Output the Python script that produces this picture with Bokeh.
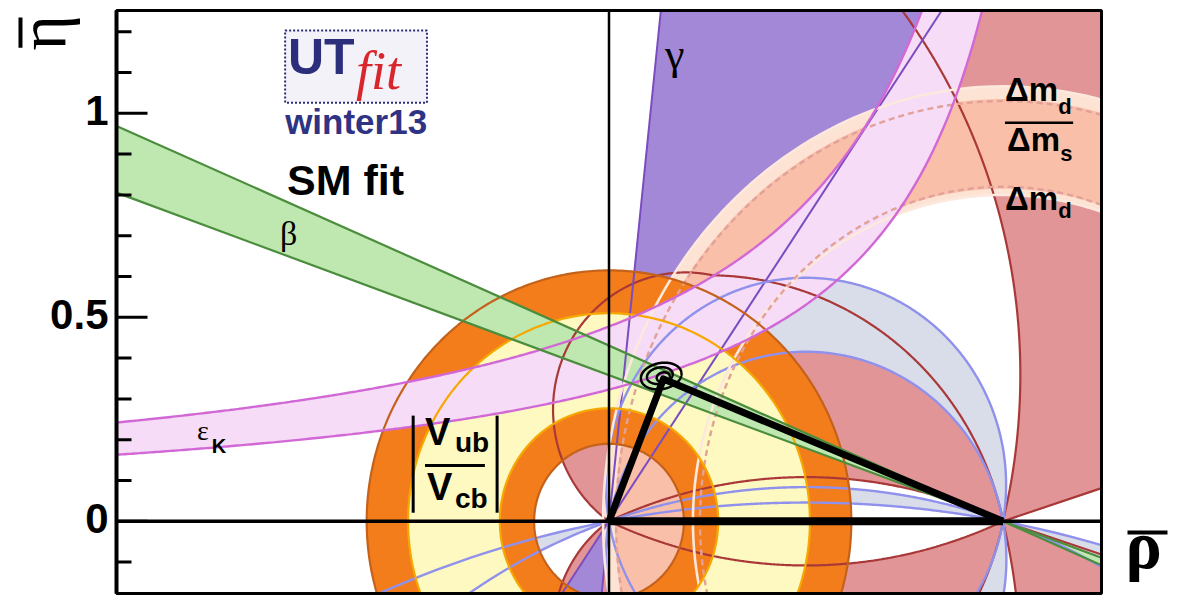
import numpy as np
from bokeh.plotting import figure
from bokeh.models import Range1d
from bokeh.core.properties import value
from bokeh.embed import file_html
from bokeh.resources import INLINE

# ---------------------------------------------------------------- values
RHO_RANGE = (-1.25, 1.25)
ETA_RANGE = (-0.177, 1.252)
ETA_MAJOR_TICKS = [0.0, 0.5, 1.0]
ETA_TICK_LABELS = ["0", "0.5", "1"]
ETA_MINOR_TICKS = [-0.1, 0.1, 0.2, 0.3, 0.4, 0.6, 0.7, 0.8, 0.9, 1.1, 1.2]

# best-fit apex of the unitarity triangle
APEX_RHO = 0.138
APEX_ETA = 0.349

# 2D probability contours of the fit (centre, semi-axes, tilt in degrees)
CONTOUR_RHO = [0.1325, 0.129, 0.138]
CONTOUR_ETA = [0.356, 0.357, 0.353]
CONTOUR_SEMI_RHO = [0.052, 0.033, 0.017]
CONTOUR_SEMI_ETA = [0.032, 0.020, 0.012]
CONTOUR_TILT = [10.0, 10.0, 10.0]

# |Vub/Vcb| : radii around (0,0)
VUB_RADII_95 = [0.19, 0.615]
VUB_RADII_68 = [0.277, 0.51]

# sin2beta : angles (deg) of the band edges through (1,0)
BETA_ANGLES = [19.7, 23.3]

# gamma : angles (deg) of the band edges through (0,0)
GAMMA_ANGLES = [56.0, 84.0]

# eps_K : edges eta = k / (a - rho)
EPSK_POLE = [1.284, 1.276]
EPSK_SCALE = [0.613, 0.412]

# Delta m_d / Delta m_s and Delta m_d : semi-axes of the edges around (1,0)
DMS_95_SEMI_RHO = [0.787, 1.015]
DMS_95_SEMI_ETA = [0.800, 1.066]
DMS_68_SEMI_RHO = [0.800, 0.985]
DMS_68_SEMI_ETA = [0.815, 1.035]
DMD_SEMI_RHO = [0.769, 0.982]
DMD_SEMI_ETA = [0.820, 1.030]

# alpha : circles through (0,0) and (1,0), centre at (0.5, c)
ALPHA_MAIN_OFFSETS = [0.089, -0.093]
ALPHA_FLAT_OFFSETS = [-1.45, -2.7]

# cos2beta-like region (red): circle edges (rho_c, eta_c, r)
RED_LEFT_CIRCLE = [0.194, 0.274, 0.336]
RED_RIGHT_CIRCLE = [0.253, -0.162, 0.765]
RED_FLAT_OFFSET = -1.1
RED_OUTER_CIRCLE = [-0.435, 0.359, 1.479]
RED_WEDGE_ANGLE = 18.0

# ---------------------------------------------------------------- page layout (pixels)
WIDTH, HEIGHT = 1181, 596
FRAME_LEFT, FRAME_RIGHT, FRAME_TOP, FRAME_BOTTOM = 116, 1101, 10, 593
SX = (FRAME_RIGHT - FRAME_LEFT) / (RHO_RANGE[1] - RHO_RANGE[0])
SY = (FRAME_BOTTOM - FRAME_TOP) / (ETA_RANGE[1] - ETA_RANGE[0])
X_VIEW = (RHO_RANGE[0] - FRAME_LEFT / SX, RHO_RANGE[1] + (WIDTH - FRAME_RIGHT) / SX)
Y_VIEW = (ETA_RANGE[0] - (HEIGHT - FRAME_BOTTOM) / SY, ETA_RANGE[1] + FRAME_TOP / SY)

# ---------------------------------------------------------------- colours
C_GAMMA, L_GAMMA = "#a488d8", "#7a4cbf"
C_RED, L_RED = "#e29596", "#a93838"
C_ALPHA, L_ALPHA = "#d9dce9", "#8f91ec"
C_DMS95, C_DMS68, L_DMS, L_DMD = "#fde3d4", "#fabfa9", "#fde8dd", "#e2a199"
C_VUB95, C_VUB68, L_VUB95, L_VUB68 = "#f47d1b", "#fdf9c1", "#c4611a", "#f6a800"
C_EPSK, L_EPSK = "#f6dcf6", "#d268d6"
C_BETA, L_BETA = "#bee8b0", "#4b8d3d"
NAVY = "#2b2e7a"

FAR = 4.0
XMIN, XMAX = RHO_RANGE
YMIN, YMAX = ETA_RANGE


# ---------------------------------------------------------------- geometry
def arc(cx, cy, rx, ry, t0, t1, n=360):
    t = np.radians(np.linspace(t0, t1, n))
    return cx + rx * np.cos(t), cy + ry * np.sin(t)


def ring(cx, cy, rx, ry, n=480):
    return arc(cx, cy, rx, ry, 0.0, 360.0, n)


def chord_arc(c, upper, n=360):
    """Arc of the circle through (0,0) and (1,0) centred at (0.5, c), from (0,0) to (1,0)."""
    r = np.hypot(0.5, c)
    phi = np.degrees(np.arctan2(c, 0.5))
    t1 = -phi if upper else 360.0 - phi
    return arc(0.5, c, r, r, 180.0 + phi, t1, n)


def crescents(c1, c2):
    out = []
    for upper in (True, False):
        x1, y1 = chord_arc(c1, upper)
        x2, y2 = chord_arc(c2, upper)
        out.append(([np.r_[x1, x2[::-1]]], [np.r_[y1, y2[::-1]]]))
    return out


def annulus(cx, cy, inner, outer):
    xo, yo = ring(cx, cy, outer[0], outer[1])
    xi, yi = ring(cx, cy, inner[0], inner[1])
    return ([xo, xi], [yo, yi])


def circle_cross(c1, c2):
    x1, y1, r1 = c1
    x2, y2, r2 = c2
    dx, dy = x2 - x1, y2 - y1
    d = np.hypot(dx, dy)
    a = (r1 ** 2 - r2 ** 2 + d ** 2) / (2 * d)
    h = np.sqrt(max(r1 ** 2 - a ** 2, 0.0))
    xm, ym = x1 + a * dx / d, y1 + a * dy / d
    pts = [(xm + h * dy / d, ym - h * dx / d), (xm - h * dy / d, ym + h * dx / d)]
    return max(pts, key=lambda q: q[0])


def mirror(curve):
    return (curve[0], -np.asarray(curve[1]))


# ---------------------------------------------------------------- clipping to the plot window
_EDGES = [
    (lambda q: q[0] >= XMIN, lambda a, b: (XMIN, a[1] + (XMIN - a[0]) * (b[1] - a[1]) / (b[0] - a[0]))),
    (lambda q: q[0] <= XMAX, lambda a, b: (XMAX, a[1] + (XMAX - a[0]) * (b[1] - a[1]) / (b[0] - a[0]))),
    (lambda q: q[1] >= YMIN, lambda a, b: (a[0] + (YMIN - a[1]) * (b[0] - a[0]) / (b[1] - a[1]), YMIN)),
    (lambda q: q[1] <= YMAX, lambda a, b: (a[0] + (YMAX - a[1]) * (b[0] - a[0]) / (b[1] - a[1]), YMAX)),
]


def clip_ring(xs, ys):
    pts = list(zip(np.asarray(xs, float), np.asarray(ys, float)))
    for inside, cross in _EDGES:
        if not pts:
            break
        out = []
        prev = pts[-1]
        for cur in pts:
            if inside(cur):
                if not inside(prev):
                    out.append(cross(prev, cur))
                out.append(cur)
            elif inside(prev):
                out.append(cross(prev, cur))
            prev = cur
        pts = out
    if len(pts) < 3:
        return None
    arr = np.array(pts)
    return arr[:, 0], arr[:, 1]


def clip_segment(x0, y0, x1, y1):
    dx, dy = x1 - x0, y1 - y0
    t0, t1 = 0.0, 1.0
    for pp, qq in ((-dx, x0 - XMIN), (dx, XMAX - x0), (-dy, y0 - YMIN), (dy, YMAX - y0)):
        if pp == 0:
            if qq < 0:
                return None
        else:
            t = qq / pp
            if pp < 0:
                if t > t1:
                    return None
                t0 = max(t0, t)
            else:
                if t < t0:
                    return None
                t1 = min(t1, t)
    return (x0 + t0 * dx, y0 + t0 * dy, x0 + t1 * dx, y0 + t1 * dy)


def clip_polyline(xs, ys):
    runs, cur, last = [], None, None
    for i in range(len(xs) - 1):
        seg = clip_segment(xs[i], ys[i], xs[i + 1], ys[i + 1])
        if seg is None:
            last = None
            continue
        ax_, ay_, bx_, by_ = seg
        if last is None or abs(last[0] - ax_) > 1e-12 or abs(last[1] - ay_) > 1e-12:
            cur = ([ax_], [ay_])
            runs.append(cur)
        cur[0].append(bx_)
        cur[1].append(by_)
        last = (bx_, by_)
    return runs


def add_fill(p, polys, color):
    xs, ys = [], []
    for px, py in polys:
        rings = [clip_ring(rx, ry) for rx, ry in zip(px, py)]
        if rings[0] is None:
            continue
        rings = [r for r in rings if r is not None]
        xs.append([[r[0].tolist() for r in rings]])
        ys.append([[r[1].tolist() for r in rings]])
    p.multi_polygons(xs=xs, ys=ys, fill_color=color, line_color=None)


def add_lines(p, curves, color, width=2.2, dash="solid"):
    xs, ys = [], []
    for cx_, cy_ in curves:
        for rx, ry in clip_polyline(np.asarray(cx_, float), np.asarray(cy_, float)):
            xs.append(rx)
            ys.append(ry)
    p.multi_line(xs=xs, ys=ys, line_color=color, line_width=width, line_dash=dash)


# ---------------------------------------------------------------- figure
p = figure(width=WIDTH, height=HEIGHT, x_range=Range1d(*X_VIEW), y_range=Range1d(*Y_VIEW),
           output_backend="svg", toolbar_location=None,
           x_axis_location=None, y_axis_location=None, min_border=0)
p.grid.visible = False
p.outline_line_color = None
p.background_fill_color = "white"
p.border_fill_color = "white"

# ---------------------------------------------------------------- red constraint
lc, rc = RED_LEFT_CIRCLE, RED_RIGHT_CIRCLE
ix, iy = circle_cross(lc, rc)
tl0 = np.degrees(np.arctan2(-lc[1], -lc[0]))
tli = np.degrees(np.arctan2(iy - lc[1], ix - lc[0]))
while tli > tl0:
    tli -= 360.0
red_left = arc(lc[0], lc[1], lc[2], lc[2], tl0, tli)
tri = np.degrees(np.arctan2(iy - rc[1], ix - rc[0]))
tr1 = np.degrees(np.arctan2(-rc[1], 1.0 - rc[0]))
red_right = arc(rc[0], rc[1], rc[2], rc[2], tri, tr1)
red_flat = chord_arc(RED_FLAT_OFFSET, True)
red_main = (np.r_[red_left[0], red_right[0], red_flat[0][::-1]],
            np.r_[red_left[1], red_right[1], red_flat[1][::-1]])

oc = RED_OUTER_CIRCLE
to0 = np.degrees(np.arctan2(-oc[1], 1.0 - oc[0]))
red_outer_arc = arc(oc[0], oc[1], oc[2], oc[2], to0, 50.0)
wedge_eta = (FAR - 1.0) * np.tan(np.radians(RED_WEDGE_ANGLE))
red_wedge = (np.array([1.0, FAR]), np.array([0.0, wedge_eta]))
red_outer = (np.r_[red_outer_arc[0], FAR, FAR, 1.0],
             np.r_[red_outer_arc[1], red_outer_arc[1][-1], wedge_eta, 0.0])

red_polys = []
for shape in (red_main, red_outer):
    red_polys.append(([shape[0]], [shape[1]]))
    m = mirror(shape)
    red_polys.append(([m[0]], [m[1]]))
add_fill(p, red_polys, C_RED)

# ---------------------------------------------------------------- gamma
g0, g1 = np.radians(GAMMA_ANGLES)
gamma_polys = []
for s in (1.0, -1.0):
    gamma_polys.append(([np.array([0.0, s * FAR * np.cos(g0), s * FAR * np.cos(g1)])],
                        [np.array([0.0, s * FAR * np.sin(g0), s * FAR * np.sin(g1)])]))
add_fill(p, gamma_polys, C_GAMMA)

# ---------------------------------------------------------------- alpha
alpha_polys = crescents(*ALPHA_MAIN_OFFSETS) + crescents(*ALPHA_FLAT_OFFSETS)
add_fill(p, alpha_polys, C_ALPHA)

# ---------------------------------------------------------------- Delta m
dms95 = annulus(1.0, 0.0, (DMS_95_SEMI_RHO[0], DMS_95_SEMI_ETA[0]), (DMS_95_SEMI_RHO[1], DMS_95_SEMI_ETA[1]))
dms68 = annulus(1.0, 0.0, (DMS_68_SEMI_RHO[0], DMS_68_SEMI_ETA[0]), (DMS_68_SEMI_RHO[1], DMS_68_SEMI_ETA[1]))
add_fill(p, [dms95], C_DMS95)
add_fill(p, [dms68], C_DMS68)

# ---------------------------------------------------------------- |Vub/Vcb|
vub95 = annulus(0.0, 0.0, (VUB_RADII_95[0],) * 2, (VUB_RADII_95[1],) * 2)
vub68 = annulus(0.0, 0.0, (VUB_RADII_68[0],) * 2, (VUB_RADII_68[1],) * 2)
add_fill(p, [vub95], C_VUB95)
add_fill(p, [vub68], C_VUB68)

# ---------------------------------------------------------------- eps_K
top = 1.45
xu = np.linspace(-1.6, EPSK_POLE[0] - EPSK_SCALE[0] / top, 400)
yu = EPSK_SCALE[0] / (EPSK_POLE[0] - xu)
xl = np.linspace(-1.6, EPSK_POLE[1] - EPSK_SCALE[1] / top, 400)
yl = EPSK_SCALE[1] / (EPSK_POLE[1] - xl)
add_fill(p, [([np.r_[xu, xl[::-1]]], [np.r_[yu, yl[::-1]]])], C_EPSK)

# ---------------------------------------------------------------- beta
b0, b1 = np.radians(BETA_ANGLES)
beta_polys = []
for s in (1.0, -1.0):
    beta_polys.append(([np.array([1.0, 1.0 - s * FAR * np.cos(b0), 1.0 - s * FAR * np.cos(b1)])],
                       [np.array([0.0, s * FAR * np.sin(b0), s * FAR * np.sin(b1)])]))
add_fill(p, beta_polys, C_BETA)

# ---------------------------------------------------------------- edges
red_curves = [red_left, red_right, red_flat, red_outer_arc, red_wedge]
add_lines(p, red_curves + [mirror(c) for c in red_curves], L_RED, 2.2)

add_lines(p, [(np.array([-FAR * np.cos(g), FAR * np.cos(g)]),
               np.array([-FAR * np.sin(g), FAR * np.sin(g)])) for g in (g0, g1)], L_GAMMA, 2.0)

alpha_curves = []
for c in ALPHA_MAIN_OFFSETS + ALPHA_FLAT_OFFSETS:
    alpha_curves.append(chord_arc(c, True))
    alpha_curves.append(chord_arc(c, False))
add_lines(p, alpha_curves, L_ALPHA, 2.4)

add_lines(p, [ring(1.0, 0.0, DMS_95_SEMI_RHO[i], DMS_95_SEMI_ETA[i]) for i in range(2)], L_DMS, 2.6)
add_lines(p, [ring(1.0, 0.0, DMD_SEMI_RHO[i], DMD_SEMI_ETA[i]) for i in range(2)], L_DMD, 2.4, "6 4")

add_lines(p, [ring(0.0, 0.0, r, r) for r in VUB_RADII_95], L_VUB95, 2.2)
add_lines(p, [ring(0.0, 0.0, r, r) for r in VUB_RADII_68], L_VUB68, 2.2)

add_lines(p, [(xu, yu), (xl, yl)], L_EPSK, 2.4)

add_lines(p, [(np.array([1.0 + FAR * np.cos(b), 1.0 - FAR * np.cos(b)]),
               np.array([-FAR * np.sin(b), FAR * np.sin(b)])) for b in (b0, b1)], L_BETA, 2.2)

# ---------------------------------------------------------------- axes through the origin
p.segment(x0=[XMIN], x1=[XMAX], y0=[0.0], y1=[0.0], line_color="black", line_width=3.5)
p.segment(x0=[0.0], x1=[0.0], y0=[YMIN], y1=[YMAX], line_color="black", line_width=2.5)

# ---------------------------------------------------------------- unitarity triangle and fit contours
p.line(x=[0.0, 1.0], y=[0.0, 0.0], line_color="black", line_width=8)
p.line(x=[0.0, APEX_RHO, 1.0], y=[0.0, APEX_ETA, 0.0], line_color="black", line_width=7,
       line_join="round")
cont = []
for cx, cy, a, b, tilt in zip(CONTOUR_RHO, CONTOUR_ETA, CONTOUR_SEMI_RHO, CONTOUR_SEMI_ETA, CONTOUR_TILT):
    t = np.linspace(0, 2 * np.pi, 200)
    u, v = a * np.cos(t), b * np.sin(t)
    th = np.radians(tilt)
    cont.append((cx + u * np.cos(th) - v * np.sin(th), cy + u * np.sin(th) + v * np.cos(th)))
add_lines(p, cont, "black", 2.5)


# ---------------------------------------------------------------- texts
def put(x, y, s, size, font="Liberation Sans", style="bold", color="black",
        align="left", baseline="alphabetic", angle=0.0):
    p.text(x=[x], y=[y], text=[s], text_font=value(font), text_font_size=value(f"{size}px"),
           text_font_style=style, text_color=color, text_align=align, text_baseline=baseline,
           angle=angle)


# logo
p.quad(left=[-0.822], right=[-0.462], bottom=[1.026], top=[1.203],
       fill_color="#f4f2f9", line_color=NAVY, line_width=2, line_dash="2 2")
put(-0.815, 1.139, "UT", 50, color=NAVY)
put(-0.642, 1.104, "fit", 54, font="Liberation Serif", style="italic", color="#d9262c")
put(-0.822, 0.980, "winter13", 35, color="#2f3383")
put(-0.817, 0.837, "SM fit", 43)

# greek labels of the bands
put(0.142, 1.144, "γ", 44, font="Liberation Serif", style="normal")
put(-0.835, 0.706, "β", 34, font="Liberation Serif", style="normal")
put(-1.046, 0.223, "ε", 28, font="Liberation Serif", style="normal")
put(-1.008, 0.184, "K", 20)

# |Vub/Vcb|
put(-0.467, 0.219, "V", 38)
put(-0.391, 0.193, "ub", 28)
put(-0.462, 0.085, "V", 38)
put(-0.391, 0.056, "cb", 28)
p.line(x=[-0.467, -0.315], y=[0.137, 0.137], line_color="black", line_width=3)
p.line(x=[-0.497, -0.497], y=[0.021, 0.259], line_color="black", line_width=3)
p.line(x=[-0.284, -0.284], y=[0.021, 0.259], line_color="black", line_width=3)

# Delta m labels
put(1.005, 1.058, "Δm", 33)
put(1.140, 1.016, "d", 22)
p.line(x=[1.005, 1.178], y=[0.977, 0.977], line_color="black", line_width=2.5)
put(1.010, 0.936, "Δm", 33)
put(1.145, 0.901, "s", 22)
put(1.005, 0.791, "Δm", 33)
put(1.140, 0.763, "d", 22)

# ---------------------------------------------------------------- frame and eta axis
p.quad(left=[XMIN], right=[XMAX], bottom=[YMIN], top=[YMAX],
       fill_color=None, line_color="black", line_width=3)
p.segment(x0=[XMIN], x1=[XMIN], y0=[YMIN], y1=[YMAX], line_color="black", line_width=4)

major_len, minor_len, label_gap = 31 / SX, 15 / SX, 8 / SX
p.segment(x0=[XMIN] * len(ETA_MAJOR_TICKS), x1=[XMIN + major_len] * len(ETA_MAJOR_TICKS),
          y0=ETA_MAJOR_TICKS, y1=ETA_MAJOR_TICKS, line_color="black", line_width=3)
p.segment(x0=[XMIN] * len(ETA_MINOR_TICKS), x1=[XMIN + minor_len] * len(ETA_MINOR_TICKS),
          y0=ETA_MINOR_TICKS, y1=ETA_MINOR_TICKS, line_color="black", line_width=3)
for tick, lab in zip(ETA_MAJOR_TICKS, ETA_TICK_LABELS):
    put(XMIN - label_gap, tick + 0.006, lab, 42, align="right")

# axis titles with their bars
put(-1.437, 1.1537, "η", 68, font="Liberation Serif", style="normal", angle=np.pi / 2)
p.line(x=[-1.4937, -1.4937], y=[1.161, 1.235], line_color="black", line_width=4)
put(1.311, -0.058, "ρ", 68, font="Liberation Serif", style="bold")
p.line(x=[1.316, 1.4175], y=[-0.0277, -0.0277], line_color="black", line_width=4)

open("out.html", "w").write(file_html(p, INLINE))
